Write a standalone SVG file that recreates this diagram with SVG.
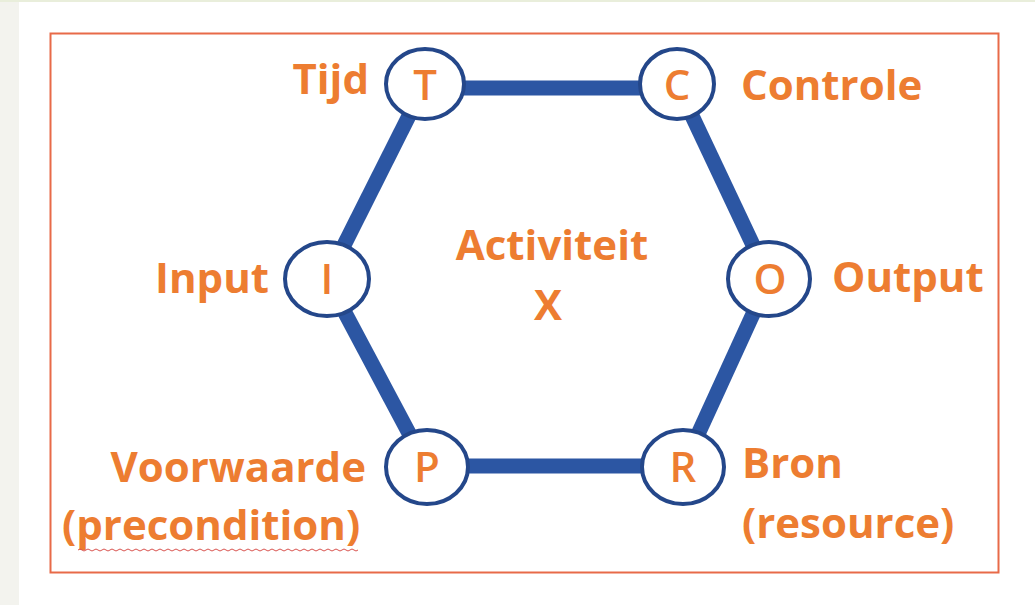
<svg xmlns="http://www.w3.org/2000/svg" width="1035" height="605" viewBox="0 0 1035 605">
  <style>
    .edge { stroke: #2c56a3; stroke-width: 15; stroke-linecap: butt; fill: none; }
    .ring { fill: #ffffff; stroke: #24478a; stroke-width: 4; }
    .lbl { font-family: "Open Sans", "Liberation Sans", sans-serif; font-weight: 700; font-size: 42px; fill: #ed7d31; }
    .ltr { font-family: "Open Sans", "Liberation Sans", sans-serif; font-weight: 600; font-size: 42px; fill: #ed7d31; text-anchor: middle; }
  </style>

  <!-- page background -->
  <rect x="0" y="0" width="1035" height="605" fill="#ffffff"/>
  <rect x="0" y="0" width="19" height="605" fill="#f3f3ee"/>
  <rect x="0" y="0" width="1035" height="2" fill="#e9eedb"/>

  <!-- frame -->
  <rect x="50.5" y="33.5" width="948" height="539" fill="#ffffff" stroke="#e86a48" stroke-width="2"/>

  <!-- hexagon sides -->
  <g id="connectors">
    <line class="edge" x1="425" y1="88" x2="677" y2="88"/>
    <line class="edge" x1="677" y1="84" x2="769" y2="279"/>
    <line class="edge" x1="769" y1="279" x2="683" y2="467"/>
    <line class="edge" x1="427" y1="466" x2="683" y2="466"/>
    <line class="edge" x1="327" y1="279" x2="427" y2="467"/>
    <line class="edge" x1="425" y1="84" x2="327" y2="279"/>
  </g>

  <g id="node-t">
    <ellipse class="ring" cx="425" cy="84" rx="39" ry="35"/>
    <text class="ltr" x="425" y="100">T</text>
    <text class="lbl" x="369" y="94" text-anchor="end">Tijd</text>
  </g>

  <g id="node-c">
    <ellipse class="ring" cx="677" cy="84" rx="37" ry="35"/>
    <text class="ltr" x="677" y="100">C</text>
    <text class="lbl" x="741" y="100">Controle</text>
  </g>

  <g id="node-i">
    <ellipse class="ring" cx="327" cy="279" rx="42" ry="37"/>
    <text class="ltr" x="327" y="294">I</text>
    <text class="lbl" x="269" y="293" text-anchor="end">Input</text>
  </g>

  <g id="node-o">
    <ellipse class="ring" cx="769" cy="279" rx="41" ry="37"/>
    <text class="ltr" x="770" y="294">O</text>
    <text class="lbl" x="832" y="292">Output</text>
  </g>

  <g id="node-p">
    <ellipse class="ring" cx="427" cy="467" rx="41" ry="37"/>
    <text class="ltr" x="427" y="482">P</text>
    <text class="lbl" x="366" y="482" text-anchor="end">Voorwaarde</text>
    <text class="lbl" x="62" y="540">(precondition)</text>
    <!-- spell-check underline -->
    <path d="M78 550 q2 -2 4 0 t4 0 t4 0 t4 0 t4 0 t4 0 t4 0 t4 0 t4 0 t4 0 t4 0 t4 0 t4 0 t4 0 t4 0 t4 0 t4 0 t4 0 t4 0 t4 0 t4 0 t4 0 t4 0 t4 0 t4 0 t4 0 t4 0 t4 0 t4 0 t4 0 t4 0 t4 0 t4 0 t4 0 t4 0 t4 0 t4 0 t4 0 t4 0 t4 0 t4 0 t4 0 t4 0 t4 0 t4 0 t4 0 t4 0 t4 0 t4 0 t4 0 t4 0 t4 0 t4 0 t4 0 t4 0 t4 0 t4 0 t4 0 t4 0 t4 0 t4 0 t4 0 t4 0 t4 0 t4 0 t4 0 t4 0 t4 0 t4 0 t4 0" fill="none" stroke="#d9534f" stroke-width="1"/>
  </g>

  <g id="node-r">
    <ellipse class="ring" cx="683" cy="467" rx="41" ry="37"/>
    <text class="ltr" x="683" y="482">R</text>
    <text class="lbl" x="742" y="478">Bron</text>
    <text class="lbl" x="742" y="538">(resource)</text>
  </g>

  <g id="center-label">
    <text class="lbl" x="552" y="260" text-anchor="middle">Activiteit</text>
    <text class="lbl" x="548" y="320" text-anchor="middle">X</text>
  </g>
</svg>
